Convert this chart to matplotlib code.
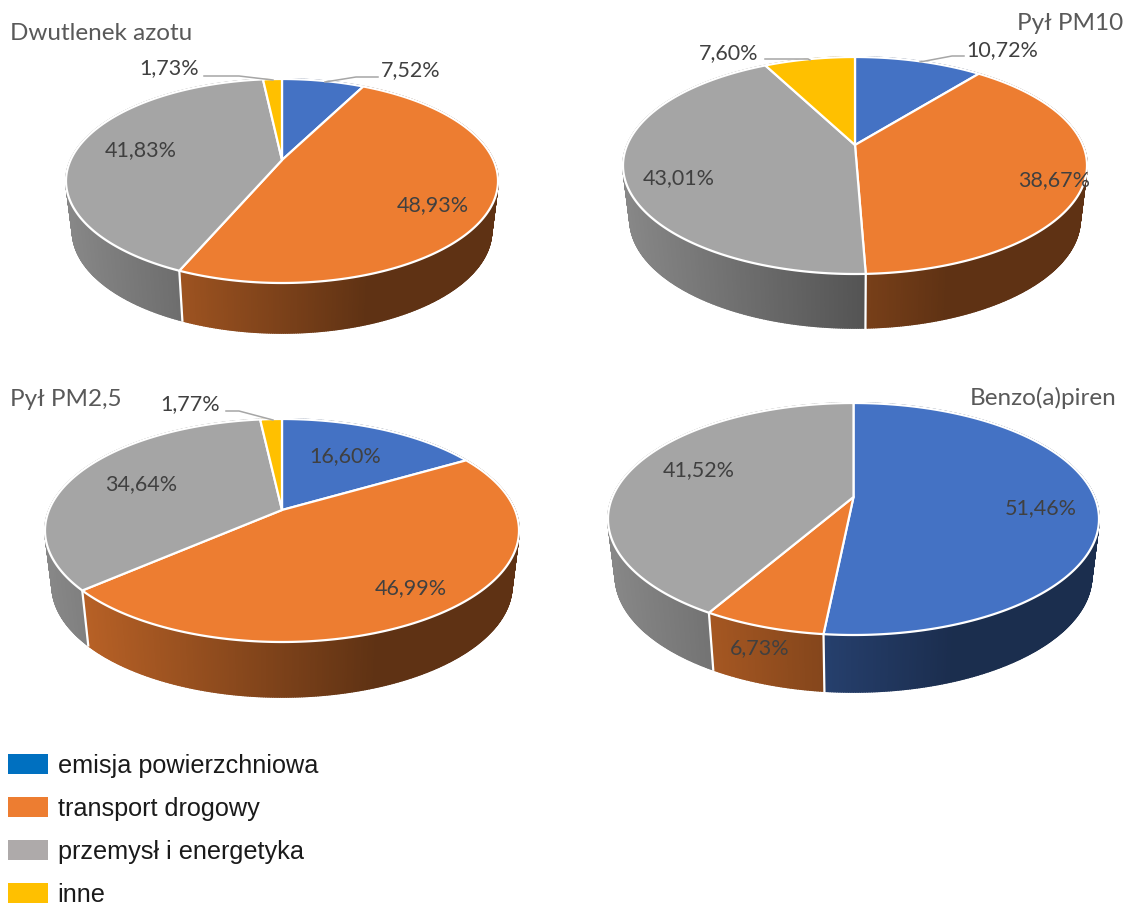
import numpy as np
import matplotlib
matplotlib.use("Agg")
import matplotlib.pyplot as plt
from matplotlib.collections import PolyCollection
from matplotlib.colors import to_rgb
from matplotlib.patches import Patch

# data: shares in percent, clockwise from the top of each pie
categories = ["emisja powierzchniowa", "transport drogowy", "przemysł i energetyka", "inne"]
no2_values = [7.52, 48.93, 41.83, 1.73]
pm10_values = [10.72, 38.67, 43.01, 7.60]
pm25_values = [16.60, 46.99, 34.64, 1.77]
bap_values = [51.46, 6.73, 41.52]

pie_colors = ["#4472C4", "#ED7D31", "#A5A5A5", "#FFC000"]
legend_colors = ["#0070C0", "#ED7D31", "#AEAAAA", "#FFC000"]
title_color = "#595959"
label_color = "#404040"
line_color = "#A6A6A6"

# layout of each pie, in pixels: centre x, centre y, half width, up, down, depth
pies = [
    {"title": "Dwutlenek azotu", "values": no2_values, "geo": (282, 160, 216, 81, 123, 50),
     "title_pos": (10, 33, "left"),
     "labels": [(411, 70), (433, 205), (141, 150), (169, 68)],
     "leaders": [[(325, 82), (356, 77), (378, 77)], [(204, 76), (239, 76), (273, 80)]]},
    {"title": "Pył PM10", "values": pm10_values, "geo": (855, 145, 232, 88, 129, 54),
     "title_pos": (1123, 23, "right"),
     "labels": [(1002, 50), (1054, 180), (679, 178), (729, 53)],
     "leaders": [[(920, 62), (952, 56), (964, 56)], [(765, 59), (808, 59), (810, 60)]]},
    {"title": "Pył PM2,5", "values": pm25_values, "geo": (282, 510, 237, 91, 132, 55),
     "title_pos": (10, 399, "left"),
     "labels": [(345, 456), (411, 588), (141, 484), (190, 404)],
     "leaders": [[(226, 411), (239, 411), (273, 420)]]},
    {"title": "Benzo(a)piren", "values": bap_values, "geo": (853.5, 497, 245.5, 94, 138, 57),
     "title_pos": (1116, 398, "right"),
     "labels": [(1041, 508), (760, 648), (699, 470)],
     "leaders": []},
]

BOTTOM_SCALE = 0.97


def project(theta, geo):
    # circle seen in perspective, so the centre sits above the middle of the ellipse
    cx, cy, half, up, down, _ = geo
    k = (down - up) / (down + up)
    u = np.sin(theta)
    v = -np.cos(theta)
    w = 1 - k * v
    return cx + half * np.sqrt(1 - k * k) * u / w, cy + up * (1 + k) * v / w


def shade(color, x, geo):
    # side walls darken from left to right, then stay flat
    t = (x - (geo[0] - geo[2])) / (2 * geo[2])
    f = max(0.82 - 0.6 * t, 0.40)
    return tuple(c * f for c in to_rgb(color))


def draw_pie(ax, pie):
    geo = pie["geo"]
    cx, cy, half, _, _, depth = geo
    values = np.array(pie["values"])
    edges = np.concatenate([[0], np.cumsum(values) / values.sum()]) * 2 * np.pi

    # walls first, the top face covers whatever lies behind it
    quads, colors = [], []
    for i in range(len(values)):
        n = max(int((edges[i + 1] - edges[i]) * 120), 2)
        th = np.linspace(edges[i], edges[i + 1], n)
        x, y = project(th, geo)
        xb = cx + (x - cx) * BOTTOM_SCALE
        yb = y + depth
        for j in range(n - 1):
            quads.append([(x[j], y[j]), (x[j + 1], y[j + 1]), (xb[j + 1], yb[j + 1]), (xb[j], yb[j])])
            colors.append(shade(pie_colors[i], (x[j] + x[j + 1]) / 2, geo))
    ax.add_collection(PolyCollection(quads, facecolors=colors, edgecolors=colors, linewidths=1.2, zorder=2))

    # white seams on the wall between slices
    for e in edges[:-1]:
        if np.cos(e) < 0 and abs(np.sin(e)) < 0.97:
            x, y = project(e, geo)
            ax.plot([x, cx + (x - cx) * BOTTOM_SCALE], [y, y + depth], color="white", lw=1.6, zorder=3)

    # top face
    for i in range(len(values)):
        th = np.linspace(edges[i], edges[i + 1], 200)
        x, y = project(th, geo)
        ax.fill(np.r_[cx, x], np.r_[cy, y], facecolor=pie_colors[i], edgecolor="white",
                lw=1.6, joinstyle="round", zorder=4)

    for v, (lx, ly) in zip(pie["values"], pie["labels"]):
        ax.text(lx, ly, f"{v:.2f}%".replace(".", ","), color=label_color, fontsize=15.5,
                family="Lato", ha="center", va="center", zorder=6)
    for leader in pie["leaders"]:
        ax.plot(*zip(*leader), color=line_color, lw=1.1, zorder=5)

    tx, ty, ha = pie["title_pos"]
    ax.text(tx, ty, pie["title"], color=title_color, fontsize=17.5, family="Lato",
            ha=ha, va="center", zorder=6)


fig = plt.figure(figsize=(11.25, 9.06), dpi=100)
ax = fig.add_axes([0, 0, 1, 1])
ax.set_xlim(0, 1125)
ax.set_ylim(906, 0)
ax.axis("off")

for pie in pies:
    draw_pie(ax, pie)

handles = [Patch(facecolor=c, edgecolor="none") for c in legend_colors]
fig.legend(handles, categories, loc="lower left", bbox_to_anchor=(8 / 1125, -1 / 906), frameon=False,
           borderpad=0, borderaxespad=0, handlelength=1.58, handleheight=0.85, handletextpad=0.39,
           labelspacing=0.76, prop={"family": "Liberation Sans", "size": 18.15}, labelcolor="#1A1A1A")

fig.savefig("out.png", dpi=100)
